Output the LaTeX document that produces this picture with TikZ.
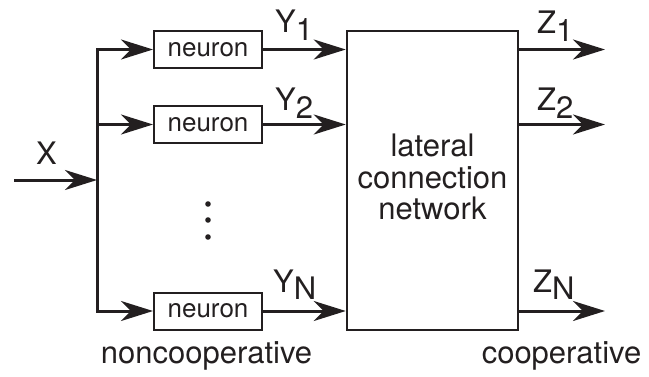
\documentclass[tikz,border=0pt]{standalone}
\usepackage{fontspec}
\setmainfont{TeX Gyre Heros}
\usetikzlibrary{arrows.meta}
\definecolor{ink}{RGB}{35,31,32}
\begin{document}
\begin{tikzpicture}[x=1pt,y=-1pt,
  conn/.style={line width=3pt, draw=ink},
  arr/.style={conn, -{Stealth[length=32pt,width=20pt,inset=10pt]}},
  neuronbox/.style={draw=ink, line width=2pt, minimum width=108pt, minimum height=37pt, inner sep=0pt, text=ink, font=\fontsize{26}{28}\selectfont},
  netbox/.style={draw=ink, line width=2.5pt, minimum width=171pt, minimum height=299pt, inner sep=0pt},
  lbl/.style={font=\fontsize{31}{31.5}\selectfont, inner sep=0pt, text=ink, anchor=base west},
  captionlbl/.style={font=\fontsize{31}{31.5}\selectfont, inner sep=0pt, text=ink, anchor=base}]
\useasboundingbox (0,0) rectangle (649,376);
% nodes
\node[neuronbox] (n1) at (208,49.5) {neuron};
\node[neuronbox] (n2) at (208,124.5) {neuron};
\node[neuronbox] (nN) at (208,311) {neuron};
\node[netbox] (net) at (432.5,180.5) {};
\node[font=\fontsize{31}{31.5}\selectfont, align=center, text=ink, inner sep=0pt] (netlbl) at (432.5,177) {lateral\\connection\\network};
% coordinates
\coordinate (xin) at (14,180);
\coordinate (xb) at (97,180);
\coordinate (b1) at (97,49.5);
\coordinate (b2) at (97,124.5);
\coordinate (bN) at (97,311);
\coordinate (o1) at (605,49.5);
\coordinate (o2) at (605,124.5);
\coordinate (oN) at (605,311);
% bus and input
\draw[conn, line cap=rect] (b1) -- (bN);
\draw[arr] (xin) -- (xb);
\draw[arr] (b1) -- (n1.west);
\draw[arr] (b2) -- (n2.west);
\draw[arr] (bN) -- (nN.west);
% outputs of neurons
\draw[arr] (n1.east) -- (net.west |- n1.east);
\draw[arr] (n2.east) -- (net.west |- n2.east);
\draw[arr] (nN.east) -- (net.west |- nN.east);
% outputs of network
\draw[arr] (net.east |- o1) -- (o1);
\draw[arr] (net.east |- o2) -- (o2);
\draw[arr] (net.east |- oN) -- (oN);
% dots
\fill[ink] (208,204) circle (2.8pt);
\fill[ink] (208,220) circle (2.8pt);
\fill[ink] (208,237) circle (2.8pt);
% labels
\node[lbl] (lx) at (36,164) {X};
\node[lbl] (ly1) at (275,32) {Y\raisebox{-8pt}{1}};
\node[lbl] (ly2) at (275,110) {Y\raisebox{-8pt}{2}};
\node[lbl] (lyN) at (273,292) {Y\raisebox{-7pt}{N}};
\node[lbl] (lz1) at (537,33) {Z\raisebox{-8pt}{1}};
\node[lbl] (lz2) at (537,110) {Z\raisebox{-8pt}{2}};
\node[lbl] (lzN) at (533,292) {Z\raisebox{-7pt}{N}};
\node[captionlbl] (lnon) at (206.5,363) {noncooperative};
\node[captionlbl] (lcoop) at (561.5,363) {cooperative};
\end{tikzpicture}
\end{document}
